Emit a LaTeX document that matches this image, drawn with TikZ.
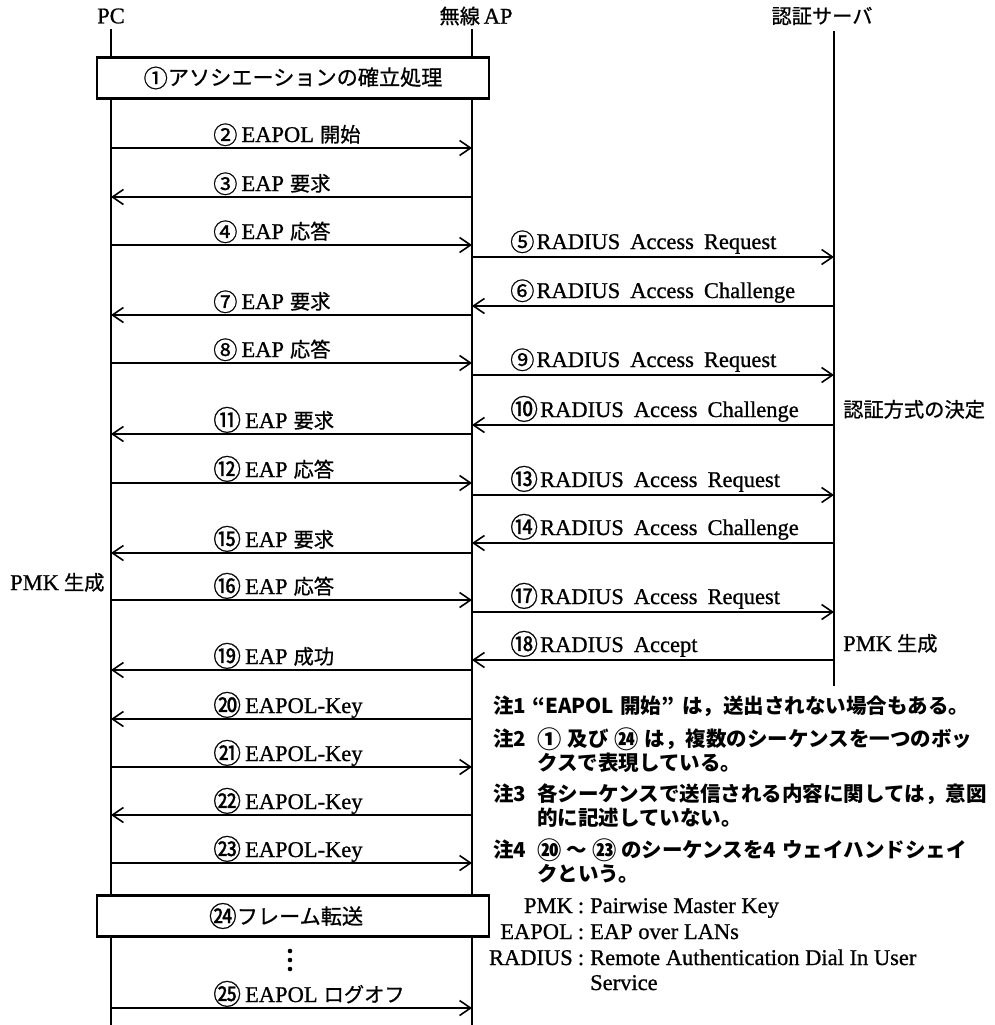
\documentclass[tikz,border=0pt]{standalone}
\usepackage{fontspec}
\setmainfont{Liberation Serif}
\newfontfamily\lfont[FakeBold=0.8]{Liberation Serif}
\newfontfamily\jp[Scale=0.9,FakeBold=0.8]{Noto Sans CJK JP}
\newfontfamily\jpn[Scale=0.9]{Noto Sans CJK JP}
\usetikzlibrary{arrows.meta}
\newcommand\J[1]{{\jp #1}}
\newcommand\C[1]{\raisebox{-2pt}{\fontsize{27}{27}\selectfont\jp #1}}
\newcommand\CC[1]{\raisebox{-2.5pt}{\fontsize{31}{31}\selectfont\jp #1}}
\newcommand\NC[1]{\raisebox{-2pt}{\fontsize{27}{27}\selectfont\jpn\bfseries #1}}
\newcommand\lblsize{\fontsize{22.5}{25}\selectfont\lfont}
\newcommand\ml[3]{#1\hspace{4pt}#2\hspace{6pt}\J{#3}}
\newcommand\mr[2]{#1\hspace{2pt}RADIUS\hspace{10pt}Access\hspace{10pt}#2}
\tikzset{
  life/.style={line width=1.8pt},
  msg/.style={line width=1.8pt, -{Straight Barb[length=11pt,width=15pt,line width=1.6pt]}},
  lbl/.style={anchor=base west, inner sep=0pt, font=\lblsize},
  header/.style={inner sep=0pt, font=\lblsize},
  procbox/.style={draw, fill=white, line width=2.2pt, minimum width=392pt, minimum height=41pt, inner sep=0pt, font=\fontsize{23.5}{26}\selectfont\jp},
  note/.style={anchor=base west, inner sep=0pt, font=\fontsize{22.8}{26}\selectfont\jpn\bfseries},
  defn/.style={inner sep=0pt, font=\fontsize{22.5}{26}\selectfont\lfont},
}
\begin{document}
\begin{tikzpicture}[x=1pt,y=-1pt]
\useasboundingbox (0,0) rectangle (995,1025);
\fill[white] (0,0) rectangle (995,1025);
% headers
\node[header] (pc) at (111,16) {PC};
\node[header] (ap) at (476,16) {\J{無線}\,AP};
\node[header] (sv) at (822,16) {\J{認証サーバ}};
% lifelines
\coordinate (pcT) at (111,29); \coordinate (pcB) at (111,1025);
\coordinate (apT) at (472,29); \coordinate (apB) at (472,1025);
\coordinate (svT) at (834,31); \coordinate (svB) at (834,686);
\draw[life] (pcT) -- (pcB);
\draw[life] (apT) -- (apB);
\draw[life] (svT) -- (svB);
% boxes
\node[procbox] (box1) at (293,78) {\C{①}アソシエーションの確立処理};
\node[procbox] (box24) at (293,916) {\hspace{-14pt}\CC{㉔}フレーム転送};
% PC <-> AP messages
\foreach \n/\y in {2/148,4/245,8/363,12/483,16/600,21/767,23/863,25/1008}{
  \coordinate (pc\n) at (111,\y); \coordinate (ap\n) at (472,\y);
  \draw[msg] (pc\n) -- (ap\n);}
\foreach \n/\y in {3/197,7/315,11/434,15/553,19/670,20/719,22/815}{
  \coordinate (pc\n) at (111,\y); \coordinate (ap\n) at (472,\y);
  \draw[msg] (ap\n) -- (pc\n);}
% AP <-> server messages
\foreach \n/\y in {5/257,9/375,13/495,17/612}{
  \coordinate (apr\n) at (472,\y); \coordinate (sv\n) at (834,\y);
  \draw[msg] (apr\n) -- (sv\n);}
\foreach \n/\y in {6/306,10/425,14/543,18/660}{
  \coordinate (apr\n) at (472,\y); \coordinate (sv\n) at (834,\y);
  \draw[msg] (sv\n) -- (apr\n);}
% left labels
\node[lbl] (l2) at (213,142) {\ml{\C{②}}{EAPOL}{開始}};
\node[lbl] (l3) at (213,191) {\ml{\C{③}}{EAP}{要求}};
\node[lbl] (l4) at (213,239) {\ml{\C{④}}{EAP}{応答}};
\node[lbl] (l7) at (213,309) {\ml{\C{⑦}}{EAP}{要求}};
\node[lbl] (l8) at (213,357) {\ml{\C{⑧}}{EAP}{応答}};
\node[lbl] (l11) at (213,428) {\ml{\CC{⑪}}{EAP}{要求}};
\node[lbl] (l12) at (213,477) {\ml{\CC{⑫}}{EAP}{応答}};
\node[lbl] (l15) at (213,547) {\ml{\CC{⑮}}{EAP}{要求}};
\node[lbl] (l16) at (213,594) {\ml{\CC{⑯}}{EAP}{応答}};
\node[lbl] (l19) at (213,664) {\ml{\CC{⑲}}{EAP}{成功}};
\node[lbl] (l20) at (213,713) {\CC{⑳}\hspace{4pt}EAPOL-Key};
\node[lbl] (l21) at (213,761) {\CC{㉑}\hspace{4pt}EAPOL-Key};
\node[lbl] (l22) at (213,809) {\CC{㉒}\hspace{4pt}EAPOL-Key};
\node[lbl] (l23) at (213,857) {\CC{㉓}\hspace{4pt}EAPOL-Key};
\node[lbl] (l25) at (213,1002) {\ml{\CC{㉕}}{EAPOL}{ログオフ}};
% dots
\foreach \d/\y in {1/951,2/960,3/969}{\fill (290,\y) circle (2.3pt);}
% right labels
\node[lbl] (l5) at (510,249) {\mr{\C{⑤}}{Request}};
\node[lbl] (l6) at (510,298) {\mr{\C{⑥}}{Challenge}};
\node[lbl] (l9) at (510,367) {\mr{\C{⑨}}{Request}};
\node[lbl] (l10) at (510,417) {\mr{\CC{⑩}}{Challenge}};
\node[lbl] (l13) at (510,487) {\mr{\CC{⑬}}{Request}};
\node[lbl] (l14) at (510,535) {\mr{\CC{⑭}}{Challenge}};
\node[lbl] (l17) at (510,604) {\mr{\CC{⑰}}{Request}};
\node[lbl] (l18) at (510,652) {\CC{⑱}\hspace{2pt}RADIUS\hspace{10pt}Accept};
% side texts
\node[lbl] (pmkL) at (10,590) {PMK\hspace{5pt}\J{生成}};
\node[lbl] (auth) at (843,417) {\J{認証方式の決定}};
\node[lbl] (pmkR) at (843,651) {PMK\hspace{5pt}\J{生成}};
% notes
\node[note] (n1) at (493,713) {注1};
\node[note] (n1t) at (532,713) {“EAPOL\hspace{6pt}開始”\hspace{8pt}は，送出されない場合もある。};
\node[note] (n2) at (493,746) {注2};
\node[note] (n2t) at (537,746) {\NC{①}\hspace{6pt}及び\hspace{6pt}\NC{㉔}\hspace{6pt}は，複数のシーケンスを一つのボッ};
\node[note] (n2u) at (537,770) {クスで表現している。};
\node[note] (n3) at (493,801) {注3};
\node[note] (n3t) at (537,801) {各シーケンスで送信される内容に関しては，意図};
\node[note] (n3u) at (537,825) {的に記述していない。};
\node[note] (n4) at (493,857) {注4};
\node[note] (n4t) at (537,857) {\NC{⑳}\hspace{5pt}～\hspace{5pt}\NC{㉓}\hspace{5pt}のシーケンスを4\hspace{6pt}ウェイハンドシェイ};
\node[note] (n4u) at (537,881) {クという。};
% definitions
\node[defn, anchor=base east] (d1) at (573,913) {PMK};
\node[defn, anchor=base] (c1) at (581,913) {:};
\node[defn, anchor=base west] (e1) at (590,913) {Pairwise Master Key};
\node[defn, anchor=base east] (d2) at (573,939) {EAPOL};
\node[defn, anchor=base] (c2) at (581,939) {:};
\node[defn, anchor=base west] (e2) at (590,939) {EAP over LANs};
\node[defn, anchor=base east] (d3) at (573,965) {RADIUS};
\node[defn, anchor=base] (c3) at (581,965) {:};
\node[defn, anchor=base west] (e3) at (590,965) {Remote Authentication Dial In User};
\node[defn, anchor=base west] (e3b) at (590,990) {Service};
\end{tikzpicture}
\end{document}
